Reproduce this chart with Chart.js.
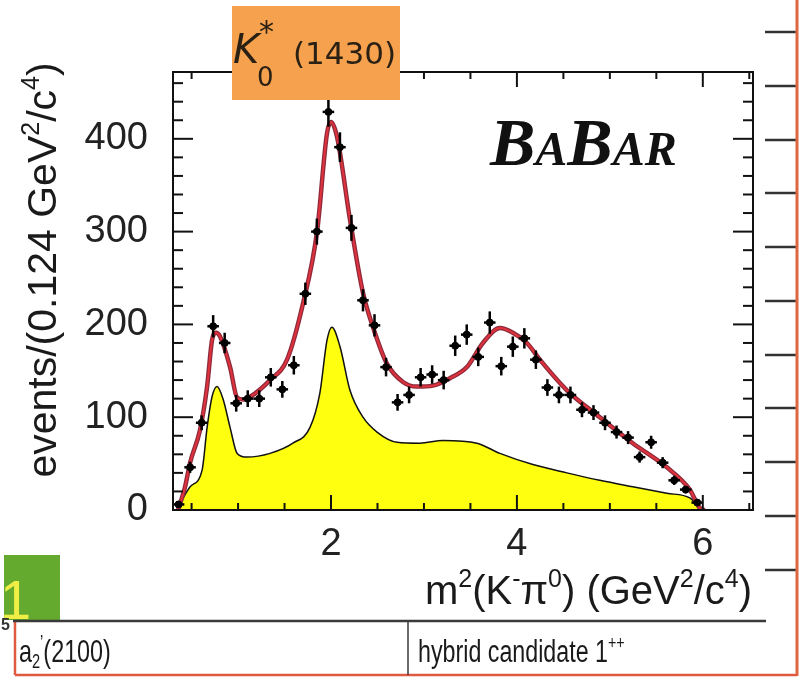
<!DOCTYPE html>
<html>
<head>
<meta charset="utf-8">
<title>m2(K-pi0) BaBar</title>
<script src="https://cdn.jsdelivr.net/npm/chart.js@4.4.1/dist/chart.umd.min.js"></script>
<style>
  html, body { margin: 0; padding: 0; background: #fff; }
  #wrap { width: 799px; height: 678px; }
</style>
</head>
<body>
<div id="wrap"><canvas id="chart" width="799" height="678"></canvas></div>
<script>
// bin centres (GeV^2/c^4), 0.124 wide
const binCenters = [0.36, 0.484, 0.608, 0.732, 0.856, 0.98, 1.104, 1.228, 1.352, 1.476,
  1.6, 1.724, 1.848, 1.972, 2.096, 2.22, 2.344, 2.468, 2.592, 2.716,
  2.84, 2.964, 3.088, 3.212, 3.336, 3.46, 3.584, 3.708, 3.832, 3.956,
  4.08, 4.204, 4.328, 4.452, 4.576, 4.7, 4.824, 4.948, 5.072, 5.196,
  5.32, 5.444, 5.568, 5.692, 5.816, 5.94];
const counts = [6, 46, 94, 198, 180, 115, 120, 120, 143, 130,
  156, 233, 300, 429, 391, 304, 226, 199, 154, 116,
  124, 143, 146, 140, 177, 189, 165, 202, 155, 176,
  185, 162, 132, 124, 124, 108, 105, 94, 84, 78,
  57, 73, 51, 32, 22, 8];
const countErrors = [3, 6, 8, 12, 11, 9, 9, 9, 10, 9,
  10, 12, 14, 16, 16, 14, 12, 12, 10, 9,
  9, 10, 10, 10, 11, 11, 10, 12, 10, 11,
  11, 10, 9, 9, 9, 8, 8, 8, 7, 7,
  6, 7, 6, 5, 4, 3];
const halfBin = 0.062;

// total fit (red)
const fitX = [0.355, 0.43, 0.484, 0.59, 0.667, 0.72, 0.763, 0.806, 0.914, 0.99,
  1.054, 1.13, 1.344, 1.527, 1.70, 1.85, 1.957, 2.0, 2.065, 2.204,
  2.344, 2.452, 2.60, 2.774, 2.925, 3.097, 3.28, 3.462, 3.634, 3.817,
  3.957, 4.108, 4.247, 4.538, 4.892, 5.247, 5.613, 5.86, 5.968, 6.02];
const fitY = [0, 25, 51, 86, 133, 183, 191, 187, 154, 121,
  119, 122, 140, 162, 223, 300, 406, 418, 402, 313,
  234, 197, 158, 138, 133, 134, 142, 154, 180, 196,
  191, 180, 162, 129, 100, 72, 46, 22, 2, 0];

// background component (yellow)
const bkgX = [0.355, 0.484, 0.613, 0.667, 0.72, 0.774, 0.84, 0.914, 0.99, 1.097,
  1.344, 1.59, 1.774, 1.88, 1.957, 2.01, 2.097, 2.204, 2.344, 2.495,
  2.71, 2.957, 3.204, 3.57, 3.817, 4.172, 4.538, 4.892, 5.247, 5.613,
  5.86, 5.968, 6.0];
const bkgY = [3, 25, 43, 89, 122, 133, 119, 89, 61, 57,
  61, 72, 89, 126, 183, 197, 176, 129, 100, 84,
  73, 72, 75, 72, 61, 49, 40, 32, 25, 18,
  13, 2, 0];

const xTicks = [2, 4, 6];
const yTicks = [0, 100, 200, 300, 400];

const SANS = '"Liberation Sans", Arial, Helvetica, sans-serif';

function segFont(kind, size, style) {
  const s = kind === 'n' ? size : Math.round(size * 0.62);
  return (style || '') + ' ' + s + 'px ' + SANS;
}
function drawRich(ctx, x, y, segs, size, align, style) {
  let w = 0;
  segs.forEach(([t, k]) => { ctx.font = segFont(k, size, style); w += ctx.measureText(t).width; });
  let cx = align === 'right' ? x - w : align === 'center' ? x - w / 2 : x;
  ctx.textAlign = 'left';
  ctx.textBaseline = 'alphabetic';
  segs.forEach(([t, k]) => {
    ctx.font = segFont(k, size, style);
    const dy = k === 'sup' ? -0.42 * size : k === 'sub' ? 0.2 * size : 0;
    ctx.fillText(t, cx, y + dy);
    cx += ctx.measureText(t).width;
  });
}
function line(ctx, x1, y1, x2, y2) {
  ctx.beginPath(); ctx.moveTo(x1, y1); ctx.lineTo(x2, y2); ctx.stroke();
}

const histoPlugin = {
  id: 'histo',
  afterDatasetsDraw(chart) {
    const ctx = chart.ctx;
    const xs = chart.scales.x, ys = chart.scales.y;
    const { left, right, top, bottom } = chart.chartArea;

    // error bars
    ctx.save();
    ctx.strokeStyle = '#000';
    ctx.lineWidth = 2.5;
    binCenters.forEach((x, i) => {
      const px = xs.getPixelForValue(x);
      const py = ys.getPixelForValue(counts[i]);
      line(ctx, px, ys.getPixelForValue(counts[i] - countErrors[i]), px, ys.getPixelForValue(counts[i] + countErrors[i]));
      line(ctx, xs.getPixelForValue(x - halfBin), py, xs.getPixelForValue(x + halfBin), py);
    });
    ctx.restore();

    // frame and inward ticks on all sides
    ctx.save();
    ctx.strokeStyle = '#111';
    ctx.lineWidth = 2;
    ctx.strokeRect(left, top, right - left, bottom - top);
    for (let k = 1; k <= 13; k++) {
      const v = k / 2;
      if (v > xs.max) break;
      const px = xs.getPixelForValue(v);
      const len = xTicks.includes(v) ? 15 : 7;
      line(ctx, px, bottom, px, bottom - len);
      line(ctx, px, top, px, top + len);
    }
    for (let v = 20; v < ys.max; v += 20) {
      const py = ys.getPixelForValue(v);
      const len = v % 100 === 0 ? 20 : 10;
      line(ctx, left, py, left + len, py);
      line(ctx, right, py, right - len, py);
    }
    ctx.restore();
  },
  afterDraw(chart) {
    const ctx = chart.ctx;
    const { right } = chart.chartArea;
    ctx.save();
    ctx.fillStyle = '#1a1a1a';

    // axis titles
    drawRich(ctx, right - 1, 604, [['m', 'n'], ['2', 'sup'], ['(K', 'n'], ['-', 'sup'], ['\u03c0', 'n'], ['0', 'sup'], [') (GeV', 'n'], ['2', 'sup'], ['/c', 'n'], ['4', 'sup'], [')', 'n']], 40, 'right');
    ctx.save();
    ctx.translate(56, 270);
    ctx.rotate(-Math.PI / 2);
    drawRich(ctx, 0, 0, [['events/(0.124 GeV', 'n'], ['2', 'sup'], ['/c', 'n'], ['4', 'sup'], [')', 'n']], 41, 'center');
    ctx.restore();

    // BABAR logo
    ctx.fillStyle = '#111';
    const big = 'bold italic 68px "Liberation Serif", "Times New Roman", serif';
    const small = 'bold italic 48px "Liberation Serif", "Times New Roman", serif';
    let bx = 490;
    [['B', big], ['A', small], ['B', big], ['AR', small]].forEach(([t, f]) => {
      ctx.font = f; ctx.fillText(t, bx, 165); bx += ctx.measureText(t).width;
    });

    // orange resonance label
    ctx.fillStyle = '#f6a14e';
    ctx.fillRect(232, 6, 168, 94);
    ctx.fillStyle = '#2a2014';
    ctx.font = 'italic 40px "DejaVu Sans", sans-serif';
    ctx.fillText('K', 233, 63);
    ctx.font = '26px "DejaVu Sans", sans-serif';
    ctx.fillText('0', 257, 86);
    ctx.font = '30px "DejaVu Sans", sans-serif';
    ctx.fillText('*', 259, 42);
    ctx.font = '31px "DejaVu Sans", sans-serif';
    ctx.fillText('(1430)', 293, 64);

    // slide decorations on the right
    ctx.strokeStyle = '#333';
    ctx.lineWidth = 2.5;
    [32, 86, 140, 193, 247, 301, 355, 408, 462, 516, 570].forEach(y => line(ctx, 765, y, 797, y));
    ctx.strokeStyle = '#de6640';
    ctx.lineWidth = 3;
    line(ctx, 797, 0, 797, 676);

    // green slide number box
    ctx.fillStyle = '#64aa2e';
    ctx.fillRect(4, 555, 56, 65);
    ctx.save();
    ctx.beginPath(); ctx.rect(4, 555, 56, 65); ctx.clip();
    ctx.fillStyle = '#eeee44';
    ctx.font = '56px ' + SANS;
    ctx.fillText('1', 0, 619);
    ctx.restore();
    ctx.fillStyle = '#333';
    ctx.font = 'bold 16px ' + SANS;
    ctx.fillText('5', 1, 630);

    // table row
    ctx.strokeStyle = '#e05a40';
    ctx.lineWidth = 2.5;
    line(ctx, 15, 622, 15, 675);
    line(ctx, 15, 675, 797, 675);
    ctx.strokeStyle = '#3a3a3a';
    ctx.lineWidth = 2.5;
    line(ctx, 13, 621, 766, 621);
    ctx.lineWidth = 1.5;
    line(ctx, 408, 621, 408, 675);
    ctx.fillStyle = '#1a1a1a';
    ctx.save();
    ctx.translate(19, 662);
    ctx.scale(0.73, 1);
    drawRich(ctx, 0, 0, [['a', 'n'], ['2', 'sub'], ['\u2019', 'sup'], ['(2100)', 'n']], 32, 'left');
    ctx.restore();
    ctx.save();
    ctx.translate(418, 662);
    ctx.scale(0.75, 1);
    drawRich(ctx, 0, 0, [['hybrid candidate 1', 'n'], ['++', 'sup']], 31, 'left');
    ctx.restore();

    ctx.restore();
  }
};

new Chart(document.getElementById('chart'), {
  type: 'scatter',
  data: {
    datasets: [
      {
        label: 'data',
        data: binCenters.map((x, i) => ({ x, y: counts[i] })),
        backgroundColor: '#000',
        borderColor: '#000',
        pointRadius: 3.5,
        pointHoverRadius: 3.5
      },
      {
        label: 'fit',
        data: fitX.map((x, i) => ({ x, y: fitY[i] })),
        showLine: true,
        borderColor: '#e0323c',
        borderWidth: 2,
        pointRadius: 0,
        cubicInterpolationMode: 'monotone',
        fill: false
      },
      {
        label: 'fit outline',
        data: fitX.map((x, i) => ({ x, y: fitY[i] })),
        showLine: true,
        borderColor: '#8e2a3c',
        borderWidth: 4.5,
        pointRadius: 0,
        cubicInterpolationMode: 'monotone',
        fill: false
      },
      {
        label: 'background',
        data: bkgX.map((x, i) => ({ x, y: bkgY[i] })),
        showLine: true,
        borderColor: '#111',
        borderWidth: 1.5,
        backgroundColor: '#ffff10',
        pointRadius: 0,
        cubicInterpolationMode: 'monotone',
        fill: 'origin'
      }
    ]
  },
  options: {
    responsive: false,
    animation: false,
    devicePixelRatio: 1,
    layout: { padding: { left: 0, top: 72, right: 46, bottom: 0 } },
    plugins: { legend: { display: false }, tooltip: { enabled: false } },
    scales: {
      x: {
        type: 'linear',
        min: 0.3,
        max: 6.54,
        grid: { display: false, drawTicks: false },
        border: { display: false },
        afterBuildTicks: s => { s.ticks = xTicks.map(v => ({ value: v })); },
        afterFit: s => { s.height = 168; },
        ticks: { color: '#222', padding: 12, font: { family: SANS, size: 38 } }
      },
      y: {
        type: 'linear',
        min: 0,
        max: 472,
        grid: { display: false, drawTicks: false },
        border: { display: false },
        afterBuildTicks: s => { s.ticks = yTicks.map(v => ({ value: v })); },
        afterFit: s => { s.width = 173; },
        ticks: { color: '#222', padding: 25, font: { family: SANS, size: 38 } }
      }
    }
  },
  plugins: [histoPlugin]
});
</script>
</body>
</html>
